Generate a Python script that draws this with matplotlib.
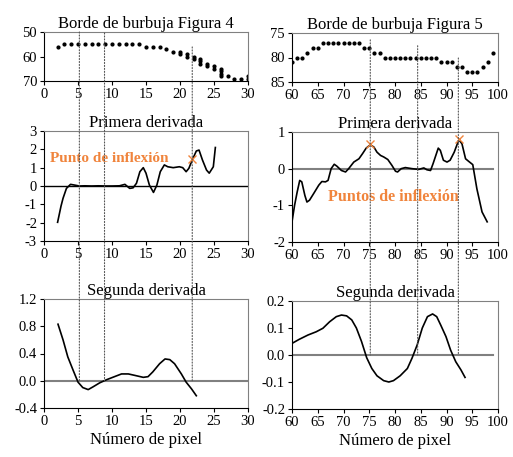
import numpy as np
import matplotlib
matplotlib.use("Agg")
import matplotlib.pyplot as plt
from matplotlib.patches import ConnectionPatch

plt.rcParams['font.family'] = ['Liberation Serif', 'DejaVu Serif']
plt.rcParams['axes.unicode_minus'] = False

# ---- data ----
# bubble edge, figure 4 (pixel column, pixel row) - several rows per column at the end
edge4_x = [2] + list(range(3, 15)) + [15, 16, 17, 18, 19, 20, 20, 21, 21, 22, 22,
           23, 23, 23, 24, 24, 25, 25, 26, 26, 26, 26, 27, 28, 29, 30, 30]
edge4_y = [56] + [55] * 12 + [56, 56, 56, 57, 58, 58, 59, 59, 60, 60, 61,
           61, 62, 63, 63, 64, 64, 65, 65, 66, 67, 68, 68, 69, 69, 68, 69]

edge5_x = list(range(60, 100))
edge5_y = [81, 80, 80, 79, 78, 78, 77, 77, 77, 77, 77, 77, 77, 77, 78, 78, 79, 79,
           80, 80, 80, 80, 80, 80, 80, 80, 80, 80, 80, 81, 81, 81, 82, 82, 83, 83,
           83, 82, 81, 79]

d1_4_x = [2.0, 2.5, 2.8, 3.3, 3.9, 4.5, 5.2, 6, 7, 8, 9, 10, 11.1, 11.9, 12.6, 13.1,
          13.6, 14.1, 14.6, 15.0, 15.5, 16.1, 16.6, 17.1, 17.7, 18.2, 19.0, 19.9,
          20.4, 20.9, 21.3, 21.8, 22.4, 22.8, 23.3, 23.9, 24.3, 24.9, 25.2]
d1_4_y = [-1.98, -1.1, -0.67, -0.13, 0.09, 0.05, 0.0, 0.01, 0.0, 0.01, 0.0, 0.0, 0.01,
          0.09, -0.13, -0.1, 0.15, 0.78, 1.0, 0.7, 0.05, -0.35, 0.05, 0.78, 1.15,
          1.05, 1.0, 1.05, 1.0, 0.78, 0.96, 1.42, 1.91, 1.96, 1.42, 0.87, 0.7, 1.05, 2.1]

d1_5_x = [60.0, 60.5, 61.0, 61.5, 61.9, 62.5, 62.9, 63.4, 64.2, 65.2, 65.8, 66.5, 67.0,
          67.6, 68.2, 68.7, 69.6, 70.4, 71.0, 72.0, 73.0, 73.7, 74.4, 75.2, 75.9,
          76.5, 77.2, 77.8, 78.6, 79.4, 80.1, 80.5, 81.2, 82.0, 83.3, 84.6, 85.6,
          86.2, 86.9, 87.4, 88.4, 88.8, 89.4, 90.1, 90.7, 91.5, 92.4, 93.0, 93.7,
          94.3, 95.1, 95.9, 96.9, 97.9]
d1_5_y = [-1.45, -1.0, -0.64, -0.32, -0.36, -0.73, -0.91, -0.86, -0.68, -0.45, -0.35,
          -0.36, -0.32, 0.0, 0.12, 0.07, -0.05, -0.09, 0.0, 0.18, 0.27, 0.41, 0.56,
          0.65, 0.59, 0.45, 0.36, 0.32, 0.25, 0.09, -0.07, -0.09, 0.0, 0.03, 0.0,
          -0.02, 0.02, -0.03, -0.05, 0.14, 0.56, 0.5, 0.23, 0.18, 0.23, 0.45, 0.79,
          0.68, 0.27, 0.2, 0.11, -0.55, -1.18, -1.45]

d2_4_x = [2.06, 2.8, 3.5, 4.3, 5.0, 5.7, 6.5, 7.2, 8.2, 9.2, 10.1, 11.4, 12.4, 13.3,
          14.6, 15.3, 16.0, 17.0, 17.8, 18.5, 19.2, 20.2, 20.9, 21.7, 22.4]
d2_4_y = [0.83, 0.6, 0.35, 0.15, -0.02, -0.1, -0.13, -0.09, -0.03, 0.015, 0.05, 0.1,
          0.1, 0.08, 0.05, 0.06, 0.13, 0.25, 0.32, 0.31, 0.25, 0.1, -0.02, -0.12, -0.22]

d2_5_x = [60, 61.4, 63.1, 64.7, 66.0, 67.3, 68.6, 69.6, 70.6, 71.6, 72.5, 73.5, 74.5,
          75.5, 76.5, 77.8, 78.8, 79.7, 81.0, 82.4, 83.3, 84.3, 85.3, 86.3, 87.3,
          88.1, 88.9, 89.9, 90.8, 91.8, 92.8, 93.6]
d2_5_y = [0.043, 0.058, 0.074, 0.086, 0.099, 0.123, 0.142, 0.148, 0.145, 0.13, 0.1,
          0.05, -0.01, -0.05, -0.077, -0.095, -0.1, -0.095, -0.077, -0.05, -0.012,
          0.037, 0.1, 0.142, 0.152, 0.142, 0.11, 0.068, 0.018, -0.025, -0.055, -0.083]

# inflection points (crosses) and marker lines
infl4_x, infl4_y = [21.8], [1.5]
infl5_x, infl5_y = [75.2, 92.5], [0.66, 0.8]
vlines4_x = [5.2, 8.9, 21.8]
vlines4_top = [50, 50.4, 56.1]
vlines5_x = [75.2, 84.4, 92.3]
vlines5_top = [76.4, 77.6, 80.1]

orange = '#f0843c'
W, H = 513, 457
fig = plt.figure(figsize=(W / 100, H / 100), dpi=100)


def make_ax(x0, x1, y0, y1):
    a = fig.add_axes([x0 / W, 1 - y1 / H, (x1 - x0) / W, (y1 - y0) / H])
    for s in ['top', 'right']:
        a.spines[s].set_color('#808080')
    a.tick_params(labelsize=10.5, length=3, width=0.8, pad=2)
    return a


ax1 = make_ax(44, 248, 32, 81)
ax2 = make_ax(292, 498, 33, 82)
ax3 = make_ax(44, 248, 131, 241)
ax4 = make_ax(292, 498, 132, 242)
ax5 = make_ax(44, 248, 299, 408)
ax6 = make_ax(292, 498, 301, 409)

# top row: bubble edges
ax1.scatter(edge4_x, edge4_y, s=4, c='black')
ax1.set_xlim(0, 30)
ax1.set_ylim(70, 50)
ax1.set_yticks([50, 60, 70])
ax1.set_xticks(range(0, 31, 5))
ax1.set_title('Borde de burbuja Figura 4', fontsize=12, pad=2)

ax2.scatter(edge5_x, edge5_y, s=4, c='black')
ax2.set_xlim(60, 100)
ax2.set_ylim(85, 75)
ax2.set_yticks([75, 80, 85])
ax2.set_xticks(range(60, 101, 5))
ax2.set_title('Borde de burbuja Figura 5', fontsize=12, pad=2)

# middle row: first derivative
ax3.axhline(0, color='black', lw=1)
ax3.plot(d1_4_x, d1_4_y, color='black', lw=1.2)
ax3.plot(infl4_x, infl4_y, 'x', color=orange, ms=6, mew=1)
ax3.text(0.9, 1.5, 'Punto de inflexión', color=orange, fontsize=11,
         fontweight='bold', ha='left', va='center')
ax3.set_xlim(0, 30)
ax3.set_ylim(-3, 3)
ax3.set_yticks(range(-3, 4))
ax3.set_xticks(range(0, 31, 5))
ax3.set_title('Primera derivada', fontsize=12, pad=2)

ax4.axhline(0, xmax=0.975, color='#808080', lw=1.5)
ax4.plot(d1_5_x, d1_5_y, color='black', lw=1.2)
ax4.plot(infl5_x, infl5_y, 'x', color=orange, ms=6, mew=1)
ax4.text(79.7, -0.77, 'Puntos de inflexión', color=orange, fontsize=11.5,
         fontweight='bold', ha='center', va='center')
ax4.set_xlim(60, 100)
ax4.set_ylim(-2, 1)
ax4.set_yticks(range(-2, 2))
ax4.set_xticks(range(60, 101, 5))
ax4.set_title('Primera derivada', fontsize=12, pad=2)

# bottom row: second derivative
ax5.axhline(0, color='#808080', lw=1.5)
ax5.plot(d2_4_x, d2_4_y, color='black', lw=1.2)
ax5.set_xlim(0, 30)
ax5.set_ylim(-0.4, 1.2)
ax5.set_yticks(np.arange(-0.4, 1.21, 0.4))
ax5.yaxis.set_major_formatter(matplotlib.ticker.FormatStrFormatter('%.1f'))
ax5.set_xticks(range(0, 31, 5))
ax5.set_title('Segunda derivada', fontsize=12, pad=2)
ax5.set_xlabel('Número de pixel', fontsize=12, labelpad=3)

ax6.axhline(0, xmax=0.975, color='#808080', lw=1.5)
ax6.plot(d2_5_x, d2_5_y, color='black', lw=1.2)
ax6.set_xlim(60, 100)
ax6.set_ylim(-0.2, 0.2)
ax6.set_yticks(np.arange(-0.2, 0.21, 0.1))
ax6.yaxis.set_major_formatter(matplotlib.ticker.FormatStrFormatter('%.1f'))
ax6.set_xticks(range(60, 101, 5))
ax6.set_title('Segunda derivada', fontsize=12, pad=2)
ax6.set_xlabel('Número de pixel', fontsize=12, labelpad=3)

# dotted lines linking the inflection points across the panels
for top, bot, xs, tops in [(ax1, ax5, vlines4_x, vlines4_top),
                           (ax2, ax6, vlines5_x, vlines5_top)]:
    for x, yt in zip(xs, tops):
        con = ConnectionPatch(xyA=(x, yt), coordsA=top.transData,
                              xyB=(x, 0), coordsB=bot.transData,
                              color='#555555', lw=0.8, linestyle=':', zorder=10)
        fig.add_artist(con)

fig.savefig('out.png', dpi=100)
